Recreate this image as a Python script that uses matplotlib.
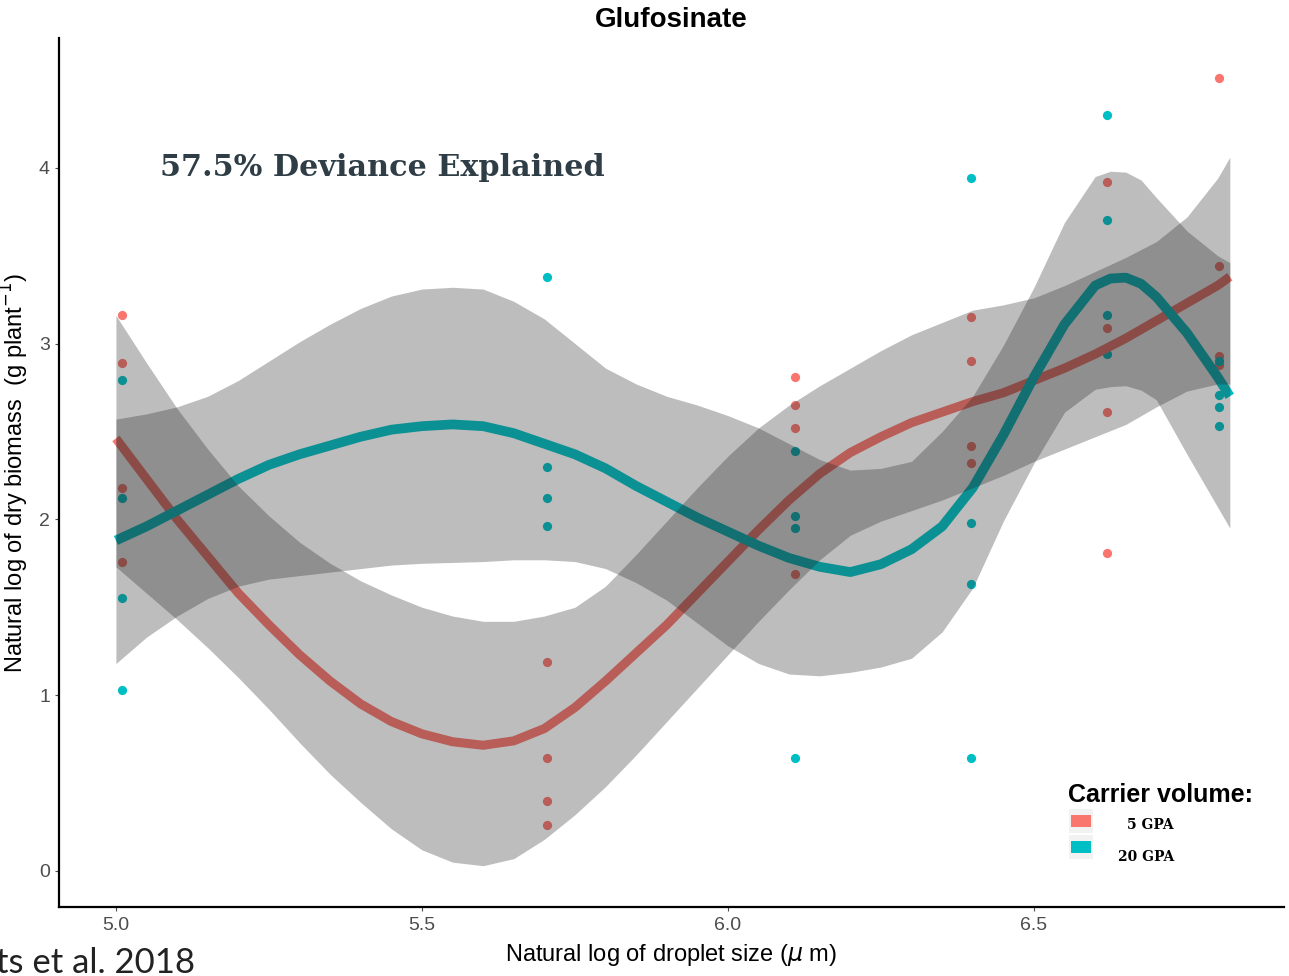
import numpy as np
import matplotlib.pyplot as plt
from matplotlib.patches import Rectangle

# droplet sizes (um); x axis is their natural log
droplet_um = np.array([150, 300, 450, 600, 750, 900])

# log dry biomass observations at each droplet size
obs_5gpa = [
    [3.16, 2.89, 2.18, 1.76],
    [1.19, 0.64, 0.40, 0.26],
    [2.81, 2.65, 2.52, 1.69],
    [3.15, 2.90, 2.42, 2.32],
    [3.92, 3.09, 2.61, 1.81],
    [4.51, 3.44, 2.93, 2.88],
]
obs_20gpa = [
    [2.79, 2.12, 1.55, 1.03],
    [3.38, 2.30, 2.12, 1.96],
    [2.39, 2.02, 1.95, 0.64],
    [3.94, 1.98, 1.63, 0.64],
    [4.30, 3.70, 3.16, 2.94],
    [2.90, 2.71, 2.64, 2.53],
]

# GAM smooths with confidence bands
fit_x = [5.00, 5.05, 5.10, 5.15, 5.20, 5.25, 5.30, 5.35, 5.40, 5.45, 5.50,
         5.55, 5.60, 5.65, 5.70, 5.75, 5.80, 5.85, 5.90, 5.95, 6.00, 6.05,
         6.10, 6.15, 6.20, 6.25, 6.30, 6.35, 6.40, 6.45, 6.50, 6.55, 6.60,
         6.625, 6.65, 6.675, 6.70, 6.75, 6.80, 6.82]
fit_5gpa = [2.46, 2.23, 2.00, 1.79, 1.58, 1.40, 1.23, 1.08, 0.95, 0.85, 0.78,
            0.735, 0.715, 0.74, 0.81, 0.93, 1.08, 1.24, 1.40, 1.58, 1.76, 1.94,
            2.11, 2.26, 2.38, 2.47, 2.55, 2.61, 2.67, 2.72, 2.79, 2.86, 2.94,
            2.985, 3.03, 3.08, 3.13, 3.23, 3.33, 3.38]
hi_5gpa = [3.16, 2.89, 2.63, 2.40, 2.19, 2.02, 1.87, 1.75, 1.65, 1.57, 1.50,
           1.45, 1.42, 1.42, 1.45, 1.50, 1.62, 1.80, 1.99, 2.18, 2.36, 2.52,
           2.65, 2.76, 2.86, 2.96, 3.05, 3.12, 3.19, 3.22, 3.26, 3.33, 3.41,
           3.45, 3.49, 3.535, 3.58, 3.72, 3.94, 4.06]
lo_5gpa = [1.73, 1.58, 1.43, 1.27, 1.10, 0.92, 0.73, 0.55, 0.39, 0.24, 0.12,
           0.05, 0.03, 0.07, 0.18, 0.32, 0.48, 0.66, 0.85, 1.04, 1.23, 1.42,
           1.60, 1.77, 1.91, 1.99, 2.05, 2.11, 2.18, 2.25, 2.33, 2.40, 2.47,
           2.505, 2.54, 2.59, 2.64, 2.73, 2.77, 2.77]
fit_20gpa = [1.88, 1.96, 2.05, 2.14, 2.23, 2.31, 2.37, 2.42, 2.47, 2.51, 2.53,
             2.54, 2.53, 2.49, 2.43, 2.37, 2.29, 2.19, 2.10, 2.01, 1.93, 1.85,
             1.78, 1.73, 1.70, 1.745, 1.83, 1.96, 2.18, 2.48, 2.81, 3.11, 3.33,
             3.37, 3.375, 3.34, 3.265, 3.06, 2.81, 2.70]
hi_20gpa = [2.57, 2.60, 2.64, 2.70, 2.79, 2.90, 3.01, 3.11, 3.20, 3.27, 3.31,
            3.32, 3.31, 3.24, 3.14, 3.00, 2.86, 2.77, 2.70, 2.65, 2.59, 2.52,
            2.43, 2.34, 2.28, 2.29, 2.33, 2.50, 2.70, 2.99, 3.32, 3.69, 3.95,
            3.98, 3.975, 3.93, 3.83, 3.64, 3.50, 3.46]
lo_20gpa = [1.18, 1.33, 1.45, 1.55, 1.62, 1.66, 1.68, 1.70, 1.72, 1.74, 1.75,
            1.755, 1.76, 1.77, 1.77, 1.76, 1.72, 1.64, 1.54, 1.41, 1.28, 1.18,
            1.12, 1.11, 1.13, 1.16, 1.21, 1.36, 1.61, 1.99, 2.32, 2.61, 2.74,
            2.755, 2.76, 2.735, 2.68, 2.37, 2.07, 1.95]

RED = '#F8766D'
TEAL = '#00BFC4'
W, H = 1289, 976

plt.rcParams['font.family'] = ['Liberation Sans', 'DejaVu Sans']
narrow = ['Liberation Sans Narrow', 'Liberation Sans', 'DejaVu Sans']

fig = plt.figure(figsize=(W / 100, H / 100), dpi=100)
ax = fig.add_axes([59 / W, 1 - 907 / H, (1284 - 59) / W, (907 - 38) / H])

lx = np.log(droplet_um)
for obs, col in [(obs_5gpa, RED), (obs_20gpa, TEAL)]:
    for xv, ys in zip(lx, obs):
        ax.scatter([xv] * len(ys), ys, s=44, color=col, lw=0, zorder=1)

ax.plot(fit_x, fit_5gpa, color=RED, lw=6.5, solid_capstyle='butt',
        solid_joinstyle='round', zorder=2)
ax.plot(fit_x, fit_20gpa, color=TEAL, lw=7, solid_capstyle='butt',
        solid_joinstyle='round', zorder=2)
ax.fill_between(fit_x, lo_5gpa, hi_5gpa, color='#252525', alpha=0.3, lw=0, zorder=3)
ax.fill_between(fit_x, lo_20gpa, hi_20gpa, color='#252525', alpha=0.3, lw=0, zorder=3)

ax.set_xlim(4.907, 6.9085)
ax.set_ylim(-0.205, 4.738)
ax.set_xticks([5.0, 5.5, 6.0, 6.5])
ax.set_xticklabels(['5.0', '5.5', '6.0', '6.5'], family=narrow)
ax.set_yticks([0, 1, 2, 3, 4])
ax.set_yticklabels(['0', '1', '2', '3', '4'], family=narrow)
ax.tick_params(colors='#4D4D4D', labelsize=14, length=3, width=0.8)
ax.tick_params(axis='x', pad=4)
for side in ['top', 'right']:
    ax.spines[side].set_visible(False)
for side in ['left', 'bottom']:
    ax.spines[side].set_linewidth(1.6)
    ax.spines[side].set_color('black')

ax.set_title('Glufosinate', fontsize=20, fontweight='bold', pad=8)
ax.set_xlabel(r'Natural log of droplet size ($\mu$ m)', fontsize=17, family=narrow,
              labelpad=6)
ax.set_ylabel(r'Natural log of dry biomass  (g plant$^{-1}$)', fontsize=17,
              family=narrow, labelpad=6)

ax.text(5.072, 4.0, '57.5% Deviance Explained', fontsize=21.8, fontweight='bold',
        family='DejaVu Serif', color='#2F3E46', va='center', ha='left')

# legend
fig.text(1068 / W, 1 - 795 / H, 'Carrier volume:', fontsize=18, fontweight='bold',
         va='center', ha='left')
for yc, col in [(821, RED), (847, TEAL)]:
    fig.add_artist(Rectangle((1069 / W, 1 - (yc + 12) / H), 24 / W, 24 / H,
                             transform=fig.transFigure, color='#F2F2F2', lw=0))
    fig.add_artist(Rectangle((1071 / W, 1 - (yc + 6) / H), 20 / W, 12 / H,
                             transform=fig.transFigure, color=col, lw=0))
for yc, lab in [(825, '5 GPA'), (857, '20 GPA')]:
    fig.text(1174 / W, 1 - yc / H, lab, fontsize=10, fontweight='bold',
             family='DejaVu Serif', va='center', ha='right')

fig.text(195 / W, 3 / H, 'ts et al. 2018', fontsize=25, family='Lato',
         va='baseline', ha='right', color='#222222')

fig.savefig('out.png', dpi=100)
